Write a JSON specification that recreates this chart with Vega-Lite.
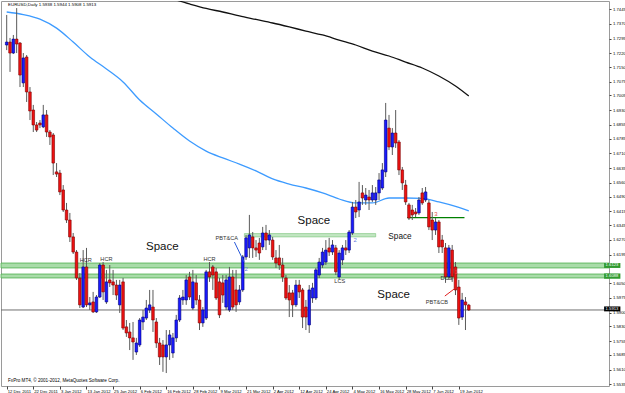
{
"$schema":"https://vega.github.io/schema/vega-lite/v6.json",
"width":608,"height":385,
"autosize":{"type":"none"},
"padding":{"left":1,"top":1,"right":16,"bottom":7},
"background":"white",
"config":{"view":{"stroke":"#9a9a9a","strokeWidth":1},"font":"Liberation Sans","axis":{"labelOverlap":false,"labelBound":false,"labelFlush":false,"grid":false,"title":null,"domain":false,"labelFontSize":4.2,"labelColor":"#000","tickColor":"#444","labelFont":"Liberation Sans","tickCount":200}},
"datasets":{
"bars":[
{"i":0,"o":1.7262,"h":1.7415,"l":1.7236,"c":1.7277},
{"i":1,"o":1.7277,"h":1.7298,"l":1.7125,"c":1.7221},
{"i":2,"o":1.7221,"h":1.7313,"l":1.7216,"c":1.7292},
{"i":3,"o":1.7292,"h":1.7450,"l":1.7221,"c":1.7267},
{"i":4,"o":1.7272,"h":1.7277,"l":1.7048,"c":1.7109},
{"i":5,"o":1.7069,"h":1.7221,"l":1.7048,"c":1.7196},
{"i":6,"o":1.7201,"h":1.7211,"l":1.6972,"c":1.7023},
{"i":7,"o":1.7023,"h":1.7048,"l":1.6880,"c":1.6926},
{"i":8,"o":1.6931,"h":1.6957,"l":1.6819,"c":1.6855},
{"i":9,"o":1.6855,"h":1.6870,"l":1.6819,"c":1.6829},
{"i":10,"o":1.6865,"h":1.6880,"l":1.6839,"c":1.6855},
{"i":11,"o":1.6845,"h":1.6957,"l":1.6839,"c":1.6906},
{"i":12,"o":1.6906,"h":1.6931,"l":1.6794,"c":1.6819},
{"i":13,"o":1.6819,"h":1.6829,"l":1.6753,"c":1.6794},
{"i":14,"o":1.6804,"h":1.6814,"l":1.6600,"c":1.6661},
{"i":15,"o":1.6616,"h":1.6661,"l":1.6590,"c":1.6605},
{"i":16,"o":1.6610,"h":1.6626,"l":1.6498,"c":1.6514},
{"i":17,"o":1.6524,"h":1.6549,"l":1.6412,"c":1.6422},
{"i":18,"o":1.6422,"h":1.6458,"l":1.6356,"c":1.6371},
{"i":19,"o":1.6371,"h":1.6407,"l":1.6259,"c":1.6285},
{"i":20,"o":1.6285,"h":1.6305,"l":1.6198,"c":1.6208},
{"i":21,"o":1.6208,"h":1.6218,"l":1.6066,"c":1.6076},
{"i":22,"o":1.6076,"h":1.6101,"l":1.5923,"c":1.5939},
{"i":23,"o":1.5928,"h":1.6218,"l":1.5923,"c":1.6132},
{"i":24,"o":1.6132,"h":1.6229,"l":1.5928,"c":1.5939},
{"i":25,"o":1.5939,"h":1.5979,"l":1.5913,"c":1.5949},
{"i":26,"o":1.5954,"h":1.6005,"l":1.5898,"c":1.5903},
{"i":27,"o":1.5903,"h":1.5989,"l":1.5898,"c":1.5979},
{"i":28,"o":1.5979,"h":1.6152,"l":1.5974,"c":1.6142},
{"i":29,"o":1.6142,"h":1.6157,"l":1.5964,"c":1.6005},
{"i":30,"o":1.5954,"h":1.6117,"l":1.5944,"c":1.6056},
{"i":31,"o":1.6066,"h":1.6142,"l":1.6030,"c":1.6051},
{"i":32,"o":1.6056,"h":1.6117,"l":1.5989,"c":1.6040},
{"i":33,"o":1.6040,"h":1.6066,"l":1.5964,"c":1.5989},
{"i":34,"o":1.5939,"h":1.6066,"l":1.5898,"c":1.6040},
{"i":35,"o":1.6056,"h":1.6076,"l":1.5811,"c":1.5821},
{"i":36,"o":1.5827,"h":1.5862,"l":1.5776,"c":1.5796},
{"i":37,"o":1.5801,"h":1.5847,"l":1.5709,"c":1.5771},
{"i":38,"o":1.5771,"h":1.5852,"l":1.5659,"c":1.5750},
{"i":39,"o":1.5699,"h":1.5771,"l":1.5684,"c":1.5745},
{"i":40,"o":1.5735,"h":1.5872,"l":1.5725,"c":1.5862},
{"i":41,"o":1.5852,"h":1.5913,"l":1.5811,"c":1.5877},
{"i":42,"o":1.5872,"h":1.5964,"l":1.5862,"c":1.5923},
{"i":43,"o":1.5913,"h":1.6015,"l":1.5898,"c":1.5939},
{"i":44,"o":1.5928,"h":1.6015,"l":1.5801,"c":1.5862},
{"i":45,"o":1.5852,"h":1.5872,"l":1.5720,"c":1.5745},
{"i":46,"o":1.5745,"h":1.5771,"l":1.5633,"c":1.5674},
{"i":47,"o":1.5735,"h":1.5760,"l":1.5598,"c":1.5674},
{"i":48,"o":1.5674,"h":1.5811,"l":1.5592,"c":1.5735},
{"i":49,"o":1.5735,"h":1.5811,"l":1.5659,"c":1.5786},
{"i":50,"o":1.5694,"h":1.5796,"l":1.5669,"c":1.5771},
{"i":51,"o":1.5771,"h":1.5888,"l":1.5750,"c":1.5862},
{"i":52,"o":1.5862,"h":1.5989,"l":1.5852,"c":1.5974},
{"i":53,"o":1.5964,"h":1.6015,"l":1.5939,"c":1.5979},
{"i":54,"o":1.5964,"h":1.6091,"l":1.5939,"c":1.6066},
{"i":55,"o":1.6081,"h":1.6107,"l":1.5964,"c":1.5979},
{"i":56,"o":1.5923,"h":1.6117,"l":1.5913,"c":1.6056},
{"i":57,"o":1.6051,"h":1.6091,"l":1.5939,"c":1.5964},
{"i":58,"o":1.5964,"h":1.5989,"l":1.5811,"c":1.5847},
{"i":59,"o":1.5847,"h":1.5928,"l":1.5827,"c":1.5913},
{"i":60,"o":1.5872,"h":1.6117,"l":1.5862,"c":1.6107},
{"i":61,"o":1.6107,"h":1.6157,"l":1.6056,"c":1.6081},
{"i":62,"o":1.6132,"h":1.6142,"l":1.6015,"c":1.6091},
{"i":63,"o":1.6107,"h":1.6127,"l":1.5964,"c":1.5974},
{"i":64,"o":1.6056,"h":1.6076,"l":1.5872,"c":1.5888},
{"i":65,"o":1.6051,"h":1.6091,"l":1.5949,"c":1.5989},
{"i":66,"o":1.5928,"h":1.6091,"l":1.5913,"c":1.6066},
{"i":67,"o":1.5913,"h":1.6132,"l":1.5903,"c":1.6081},
{"i":68,"o":1.6081,"h":1.6117,"l":1.5913,"c":1.5928},
{"i":69,"o":1.6015,"h":1.6117,"l":1.5903,"c":1.5939},
{"i":70,"o":1.5954,"h":1.6040,"l":1.5939,"c":1.6015},
{"i":71,"o":1.6015,"h":1.6193,"l":1.6005,"c":1.6183},
{"i":72,"o":1.6183,"h":1.6295,"l":1.6168,"c":1.6280},
{"i":73,"o":1.6229,"h":1.6397,"l":1.6178,"c":1.6295},
{"i":74,"o":1.6285,"h":1.6310,"l":1.6178,"c":1.6229},
{"i":75,"o":1.6229,"h":1.6269,"l":1.6183,"c":1.6218},
{"i":76,"o":1.6254,"h":1.6280,"l":1.6168,"c":1.6203},
{"i":77,"o":1.6234,"h":1.6336,"l":1.6218,"c":1.6305},
{"i":78,"o":1.6305,"h":1.6346,"l":1.6218,"c":1.6269},
{"i":79,"o":1.6269,"h":1.6320,"l":1.6244,"c":1.6295},
{"i":80,"o":1.6269,"h":1.6285,"l":1.6168,"c":1.6183},
{"i":81,"o":1.6178,"h":1.6218,"l":1.6127,"c":1.6152},
{"i":82,"o":1.6178,"h":1.6244,"l":1.6117,"c":1.6142},
{"i":83,"o":1.6142,"h":1.6178,"l":1.6056,"c":1.6081},
{"i":84,"o":1.6076,"h":1.6091,"l":1.5964,"c":1.5974},
{"i":85,"o":1.6000,"h":1.6040,"l":1.5877,"c":1.5964},
{"i":86,"o":1.6000,"h":1.6015,"l":1.5877,"c":1.5939},
{"i":87,"o":1.5939,"h":1.6066,"l":1.5928,"c":1.6040},
{"i":88,"o":1.6040,"h":1.6066,"l":1.5974,"c":1.6005},
{"i":89,"o":1.6015,"h":1.6025,"l":1.5821,"c":1.5877},
{"i":90,"o":1.5928,"h":1.5964,"l":1.5811,"c":1.5877},
{"i":91,"o":1.5837,"h":1.6040,"l":1.5796,"c":1.6015},
{"i":92,"o":1.5974,"h":1.6051,"l":1.5949,"c":1.6025},
{"i":93,"o":1.5974,"h":1.6127,"l":1.5964,"c":1.6117},
{"i":94,"o":1.6091,"h":1.6178,"l":1.6076,"c":1.6157},
{"i":95,"o":1.6142,"h":1.6229,"l":1.6127,"c":1.6208},
{"i":96,"o":1.6157,"h":1.6269,"l":1.6142,"c":1.6218},
{"i":97,"o":1.6229,"h":1.6280,"l":1.6188,"c":1.6208},
{"i":98,"o":1.6208,"h":1.6269,"l":1.6193,"c":1.6244},
{"i":99,"o":1.6229,"h":1.6244,"l":1.6091,"c":1.6107},
{"i":100,"o":1.6081,"h":1.6218,"l":1.6066,"c":1.6203},
{"i":101,"o":1.6168,"h":1.6244,"l":1.6142,"c":1.6229},
{"i":102,"o":1.6229,"h":1.6269,"l":1.6193,"c":1.6218},
{"i":103,"o":1.6218,"h":1.6320,"l":1.6203,"c":1.6310},
{"i":104,"o":1.6305,"h":1.6463,"l":1.6295,"c":1.6437},
{"i":105,"o":1.6437,"h":1.6473,"l":1.6381,"c":1.6412},
{"i":106,"o":1.6422,"h":1.6565,"l":1.6386,"c":1.6463},
{"i":107,"o":1.6509,"h":1.6549,"l":1.6448,"c":1.6483},
{"i":108,"o":1.6473,"h":1.6534,"l":1.6448,"c":1.6498},
{"i":109,"o":1.6488,"h":1.6524,"l":1.6422,"c":1.6473},
{"i":110,"o":1.6473,"h":1.6549,"l":1.6463,"c":1.6509},
{"i":111,"o":1.6473,"h":1.6539,"l":1.6448,"c":1.6509},
{"i":112,"o":1.6509,"h":1.6610,"l":1.6473,"c":1.6575},
{"i":113,"o":1.6534,"h":1.6661,"l":1.6524,"c":1.6626},
{"i":114,"o":1.6616,"h":1.6967,"l":1.6590,"c":1.6880},
{"i":115,"o":1.6839,"h":1.6906,"l":1.6727,"c":1.6743},
{"i":116,"o":1.6743,"h":1.6839,"l":1.6702,"c":1.6814},
{"i":117,"o":1.6814,"h":1.6931,"l":1.6738,"c":1.6763},
{"i":118,"o":1.6768,"h":1.6778,"l":1.6600,"c":1.6626},
{"i":119,"o":1.6626,"h":1.6641,"l":1.6524,"c":1.6560},
{"i":120,"o":1.6549,"h":1.6575,"l":1.6448,"c":1.6463},
{"i":121,"o":1.6448,"h":1.6458,"l":1.6371,"c":1.6381},
{"i":122,"o":1.6422,"h":1.6448,"l":1.6371,"c":1.6397},
{"i":123,"o":1.6412,"h":1.6432,"l":1.6386,"c":1.6402},
{"i":124,"o":1.6407,"h":1.6488,"l":1.6397,"c":1.6473},
{"i":125,"o":1.6509,"h":1.6534,"l":1.6448,"c":1.6458},
{"i":126,"o":1.6473,"h":1.6539,"l":1.6463,"c":1.6514},
{"i":127,"o":1.6458,"h":1.6473,"l":1.6320,"c":1.6336},
{"i":128,"o":1.6371,"h":1.6412,"l":1.6269,"c":1.6320},
{"i":129,"o":1.6320,"h":1.6381,"l":1.6295,"c":1.6361},
{"i":130,"o":1.6361,"h":1.6371,"l":1.6203,"c":1.6234},
{"i":131,"o":1.6269,"h":1.6295,"l":1.6203,"c":1.6234},
{"i":132,"o":1.6229,"h":1.6254,"l":1.6051,"c":1.6081},
{"i":133,"o":1.6081,"h":1.6244,"l":1.6066,"c":1.6229},
{"i":134,"o":1.6218,"h":1.6244,"l":1.6056,"c":1.6081},
{"i":135,"o":1.6132,"h":1.6157,"l":1.5989,"c":1.6015},
{"i":136,"o":1.6030,"h":1.6066,"l":1.5837,"c":1.5872},
{"i":137,"o":1.5877,"h":1.6000,"l":1.5862,"c":1.5964},
{"i":138,"o":1.5954,"h":1.5979,"l":1.5811,"c":1.5939},
{"i":139,"o":1.5938,"h":1.5944,"l":1.5908,"c":1.5913}
],
"maBlue":[
{"i":0,"v":1.7430},{"i":5,"v":1.7417},{"i":10,"v":1.7394},{"i":15,"v":1.7348},{"i":20,"v":1.7277},{"i":25,"v":1.7201},{"i":30,"v":1.7140},{"i":35,"v":1.7074},{"i":40,"v":1.6982},{"i":45,"v":1.6911},{"i":50,"v":1.6839},{"i":55,"v":1.6773},{"i":60,"v":1.6722},{"i":65,"v":1.6687},{"i":70,"v":1.6656},{"i":75,"v":1.6621},{"i":80,"v":1.6580},{"i":85,"v":1.6554},{"i":90,"v":1.6534},{"i":95,"v":1.6509},{"i":100,"v":1.6478},{"i":105,"v":1.6458},{"i":110,"v":1.6458},{"i":115,"v":1.6483},{"i":120,"v":1.6483},{"i":125,"v":1.6481},{"i":130,"v":1.6463},{"i":135,"v":1.6440},{"i":139,"v":1.6417}
],
"maBlack":[
{"i":51,"v":1.7491},{"i":55,"v":1.7471},{"i":60,"v":1.7448},{"i":65,"v":1.7430},{"i":70,"v":1.7410},{"i":75,"v":1.7392},{"i":80,"v":1.7374},{"i":85,"v":1.7354},{"i":90,"v":1.7333},{"i":95,"v":1.7313},{"i":100,"v":1.7287},{"i":105,"v":1.7262},{"i":110,"v":1.7231},{"i":115,"v":1.7206},{"i":120,"v":1.7175},{"i":125,"v":1.7145},{"i":130,"v":1.7104},{"i":135,"v":1.7053},{"i":139,"v":1.7002}
],
"zones":[{"p1":1.6127,"p2":1.6152},{"p1":1.6076,"p2":1.6096}],
"zoneShort":[{"i1":71.5,"i2":111,"p1":1.6285,"p2":1.6302}],
"levelLine":[{"i1":120.5,"i2":137.7,"p":1.6383}],
"lastPrice":[{"p":1.5913}],
"spaceBig":[{"i":46.8,"p":1.6234,"t":"Space"},{"i":92.4,"p":1.6366,"t":"Space"},{"i":116.4,"p":1.5989,"t":"Space"}],
"spaceSmall":[{"i":118.3,"p":1.6285,"t":"Space"}],
"tags":[{"i":23.8,"p":1.6168,"t":"HCR"},{"i":30.0,"p":1.6173,"t":"HCR"},{"i":61.0,"p":1.6173,"t":"HCR"},{"i":66.2,"p":1.6280,"t":"PBT&CA"},{"i":100.2,"p":1.6061,"t":"LCS"},{"i":132.3,"p":1.6076,"t":"DCS"},{"i":129.4,"p":1.5954,"t":"PBT&CB"}],
"blueMarks":[{"i":104.8,"p":1.6269,"t":"2"},{"i":72,"p":1.6122,"t":"2"}],
"redMarks":[{"i":129.1,"p":1.6402,"t":"3"},{"i":135.3,"p":1.6107,"t":"1"}],
"blueArrow":[{"i1":68.5,"p1":1.6259,"i2":71.4,"p2":1.6157}],
"redArrow":[{"i1":131.8,"p1":1.5984,"i2":135,"p2":1.6025}],
"greenBoxes":[{"i1":179.7,"i2":184.6,"p1":1.6127,"p2":1.6152,"pt":1.6140,"t":"1.6123"},{"i1":179.7,"i2":184.6,"p1":1.6072,"p2":1.6099,"pt":1.6086,"t":"1.6088"}],
"blackBoxes":[{"i1":179.7,"i2":184.6,"p1":1.5906,"p2":1.5931,"pt":1.5918,"t":"1.5913"}],
"header":[{"i":0.4,"p":1.7466,"t":"EURUSD,Daily  1.5938 1.5944 1.5908 1.5913"}],
"footer":[{"i":0.4,"p":1.5552,"t":"FxPro MT4, © 2001-2012, MetaQuotes Software Corp."}]
},
"layer":[
{"data":{"name":"zones"},"mark":{"type":"rect","fill":"#a9dca9","stroke":"#4fae4f","strokeWidth":0.8},
 "encoding":{"y":{"field":"p1","type":"quantitative","scale":{"domain":[1.5526,1.7486],"zero":false,"nice":false},"axis":{"orient":"right","labelOverlap":false,"tickCount":200,"values":[1.7445,1.7370,1.7295,1.7220,1.7150,1.7075,1.7005,1.6930,1.6855,1.6785,1.6710,1.6635,1.6560,1.6490,1.6415,1.6345,1.6270,1.6195,1.6050,1.5975,1.5900,1.5830,1.5755,1.5685,1.5610,1.5535],"format":".4f","tickSize":2,"labelPadding":1.5}},"y2":{"field":"p2"}}},
{"data":{"name":"zoneShort"},"mark":{"type":"rect","fill":"#c2e6c2","stroke":"#7cc47c","strokeWidth":0.6},
 "encoding":{"x":{"field":"i1","type":"quantitative","scale":{"domain":[-0.21,179.67],"zero":false,"nice":false},"axis":{"orient":"bottom","labelOverlap":false,"tickCount":200,"values":[0,8,16,24,32,40,48,56,64,72,80,88,96,104,112,120,128,136],"labelExpr":"['12 Dec 2011','22 Dec 2011','3 Jan 2012','13 Jan 2012','25 Jan 2012','6 Feb 2012','16 Feb 2012','28 Feb 2012','9 Mar 2012','21 Mar 2012','2 Apr 2012','12 Apr 2012','24 Apr 2012','4 May 2012','16 May 2012','28 May 2012','7 Jun 2012','19 Jun 2012'][round(datum.value/8)]","labelAlign":"left","tickSize":3,"labelPadding":0.5,"labelOffset":0.5}},"x2":{"field":"i2"},
  "y":{"field":"p1","type":"quantitative"},"y2":{"field":"p2"}}},
{"data":{"name":"levelLine"},"mark":{"type":"rule","color":"#008000","strokeWidth":1.2},
 "encoding":{"x":{"field":"i1","type":"quantitative"},"x2":{"field":"i2"},"y":{"field":"p","type":"quantitative"}}},
{"data":{"name":"lastPrice"},"mark":{"type":"rule","color":"#707070","strokeWidth":1},
 "encoding":{"y":{"field":"p","type":"quantitative"}}},
{"data":{"name":"maBlue"},"mark":{"type":"line","color":"#3d9bff","strokeWidth":1.3,"clip":true,"interpolate":"monotone"},
 "encoding":{"x":{"field":"i","type":"quantitative"},"y":{"field":"v","type":"quantitative"}}},
{"data":{"name":"maBlack"},"mark":{"type":"line","color":"#111111","strokeWidth":1.3,"clip":true,"interpolate":"monotone"},
 "encoding":{"x":{"field":"i","type":"quantitative"},"y":{"field":"v","type":"quantitative"}}},
{"data":{"name":"bars"},"mark":{"type":"rule","color":"#5a5a5a","strokeWidth":1},
 "encoding":{"x":{"field":"i","type":"quantitative"},"y":{"field":"l","type":"quantitative"},"y2":{"field":"h"}}},
{"data":{"name":"bars"},"mark":{"type":"bar","width":2.6,"strokeWidth":0.6},
 "encoding":{"x":{"field":"i","type":"quantitative"},"y":{"field":"o","type":"quantitative"},"y2":{"field":"c"},
  "fill":{"condition":{"test":"datum.c >= datum.o","value":"#1a1aff"},"value":"#ee1111"},
  "stroke":{"condition":{"test":"datum.c >= datum.o","value":"#00007a"},"value":"#7a0000"}}},
{"data":{"name":"blueArrow"},"mark":{"type":"rule","color":"#2a5ad8","strokeWidth":1},
 "encoding":{"x":{"field":"i1","type":"quantitative"},"x2":{"field":"i2"},"y":{"field":"p1","type":"quantitative"},"y2":{"field":"p2"}}},
{"data":{"name":"redArrow"},"mark":{"type":"rule","color":"#e02020","strokeWidth":1},
 "encoding":{"x":{"field":"i1","type":"quantitative"},"x2":{"field":"i2"},"y":{"field":"p1","type":"quantitative"},"y2":{"field":"p2"}}},
{"data":{"name":"spaceBig"},"mark":{"type":"text","fontSize":11.5,"color":"#111","font":"Liberation Sans","baseline":"middle","align":"center"},
 "encoding":{"x":{"field":"i","type":"quantitative"},"y":{"field":"p","type":"quantitative"},"text":{"field":"t"}}},
{"data":{"name":"spaceSmall"},"mark":{"type":"text","fontSize":8.2,"color":"#111","font":"Liberation Sans","baseline":"middle","align":"center"},
 "encoding":{"x":{"field":"i","type":"quantitative"},"y":{"field":"p","type":"quantitative"},"text":{"field":"t"}}},
{"data":{"name":"tags"},"mark":{"type":"text","fontSize":5.6,"color":"#333","font":"Liberation Sans","baseline":"middle","align":"center"},
 "encoding":{"x":{"field":"i","type":"quantitative"},"y":{"field":"p","type":"quantitative"},"text":{"field":"t"}}},
{"data":{"name":"blueMarks"},"mark":{"type":"text","fontSize":6,"color":"#6a7de0","font":"Liberation Sans","baseline":"middle","align":"center"},
 "encoding":{"x":{"field":"i","type":"quantitative"},"y":{"field":"p","type":"quantitative"},"text":{"field":"t"}}},
{"data":{"name":"redMarks"},"mark":{"type":"text","fontSize":6,"color":"#e05050","font":"Liberation Sans","baseline":"middle","align":"center"},
 "encoding":{"x":{"field":"i","type":"quantitative"},"y":{"field":"p","type":"quantitative"},"text":{"field":"t"}}},
{"data":{"name":"greenBoxes"},"mark":{"type":"rect","fill":"#2f9a2f","clip":false},
 "encoding":{"x":{"field":"i1","type":"quantitative"},"x2":{"field":"i2"},"y":{"field":"p1","type":"quantitative"},"y2":{"field":"p2"}}},
{"data":{"name":"greenBoxes"},"mark":{"type":"text","fontSize":4.2,"color":"white","align":"left","baseline":"middle","dx":1.5},
 "encoding":{"x":{"field":"i1","type":"quantitative"},"y":{"field":"pt","type":"quantitative"},"text":{"field":"t"}}},
{"data":{"name":"blackBoxes"},"mark":{"type":"rect","fill":"#000000","clip":false},
 "encoding":{"x":{"field":"i1","type":"quantitative"},"x2":{"field":"i2"},"y":{"field":"p1","type":"quantitative"},"y2":{"field":"p2"}}},
{"data":{"name":"blackBoxes"},"mark":{"type":"text","fontSize":4.2,"color":"white","align":"left","baseline":"middle","dx":1.5},
 "encoding":{"x":{"field":"i1","type":"quantitative"},"y":{"field":"pt","type":"quantitative"},"text":{"field":"t"}}},
{"data":{"name":"header"},"mark":{"type":"text","fontSize":4.4,"color":"#000","align":"left","baseline":"middle"},
 "encoding":{"x":{"field":"i","type":"quantitative"},"y":{"field":"p","type":"quantitative"},"text":{"field":"t"}}},
{"data":{"name":"footer"},"mark":{"type":"text","fontSize":4.6,"color":"#000","align":"left","baseline":"middle"},
 "encoding":{"x":{"field":"i","type":"quantitative"},"y":{"field":"p","type":"quantitative"},"text":{"field":"t"}}}
]
}
